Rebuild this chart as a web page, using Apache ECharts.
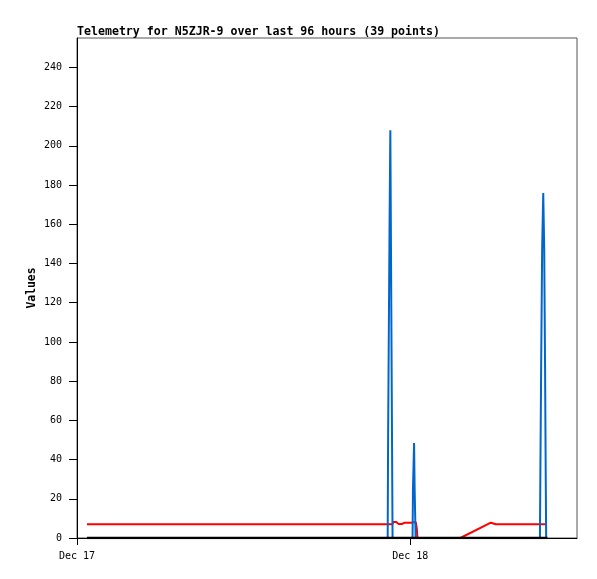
<!DOCTYPE html>
<html>
<head>
<meta charset="utf-8">
<script src="https://cdn.jsdelivr.net/npm/echarts@6/dist/echarts.min.js"></script>
<style>
html,body{margin:0;padding:0;background:#fff;}
#chart{width:597px;height:579px;}
</style>
</head>
<body>
<div id="chart"></div>
<script>
// x values: hours since Dec 17 00:00
var titleText = 'Telemetry for N5ZJR-9 over last 96 hours (39 points)';
var xTickHours = [0, 24];
var xTickLabels = ['Dec 17', 'Dec 18'];
var yTicks = [0, 20, 40, 60, 80, 100, 120, 140, 160, 180, 200, 220, 240];

var redHours  = [0.72, 22.70, 22.78, 22.99, 23.14, 23.42, 23.57, 24.07, 24.22, 24.40, 24.47, 24.51, 27.60, 29.80, 29.91, 30.16, 33.73];
var redValues = [7,    7,     8.2,   8.2,   7.2,   7.2,   7.8,   7.8,   8.0,   8.0,   4.5,   0,     0,     7.8,   8.2,   7,     7];

var blueHours  = [0.72, 22.37, 22.40, 22.45, 22.50, 22.56, 22.60, 22.64, 22.69, 22.72, 24.16, 24.19, 24.23, 24.27, 24.31, 24.35, 24.38, 33.33, 33.36, 33.42, 33.49, 33.57, 33.64, 33.70, 33.75, 33.78];
var blueValues = [0,    0,     52,    52,    156,   208,   208,   104,   104,   0,     0,     25,    25,    48.5,  25,    25,    0,     0,     30,    88,    147,   176,   147,   88,    30,    0];

var blackHours  = [0.72, 33.87];
var blackValues = [0,    0];

function pairs(xs, ys) { return xs.map(function (x, i) { return [x, ys[i]]; }); }

var chart = echarts.init(document.getElementById('chart'), null, {renderer: 'canvas'});
var mono = 'DejaVu Sans Mono';
chart.setOption({
  animation: false,
  backgroundColor: '#fff',
  title: {
    text: titleText,
    left: 77, top: 26, padding: 0,
    textStyle: {fontFamily: mono, fontSize: 11.6, fontWeight: 'bold', color: '#000'}
  },
  grid: {left: 77, right: 20, top: 38, bottom: 41, show: true, borderColor: '#555', borderWidth: 1, backgroundColor: 'transparent'},
  xAxis: {
    type: 'value', min: 0, max: 36,
    axisLine: {show: true, onZero: false, lineStyle: {color: '#000', width: 1}},
    axisTick: {show: true, length: 7, customValues: xTickHours, lineStyle: {color: '#000'}},
    axisLabel: {
      customValues: xTickHours, margin: 13,
      fontFamily: mono, fontSize: 10, color: '#000',
      formatter: function (v) { var i = xTickHours.indexOf(v); return i >= 0 ? xTickLabels[i] : ''; }
    },
    splitLine: {show: false}
  },
  yAxis: {
    type: 'value', min: 0, max: 255,
    name: 'Values', nameLocation: 'middle', nameGap: 39, nameMoveOverlap: false,
    nameTextStyle: {fontFamily: mono, fontSize: 11.4, fontWeight: 'bold', color: '#000'},
    axisLine: {show: true, lineStyle: {color: '#000', width: 1}},
    axisTick: {show: true, length: 8, customValues: yTicks, lineStyle: {color: '#000'}},
    axisLabel: {customValues: yTicks, margin: 15, fontFamily: mono, fontSize: 10, color: '#000'},
    splitLine: {show: false}
  },
  series: [
    {type: 'line', data: pairs(redHours, redValues), symbol: 'none', lineStyle: {color: '#ff0000', width: 2}, z: 2},
    {type: 'line', data: pairs(blueHours, blueValues), symbol: 'none', lineStyle: {color: '#0066cc', width: 2}, z: 3},
    {type: 'line', data: pairs(blackHours, blackValues), symbol: 'none', lineStyle: {color: '#000000', width: 2.5}, z: 4}
  ]
});
</script>
</body>
</html>
